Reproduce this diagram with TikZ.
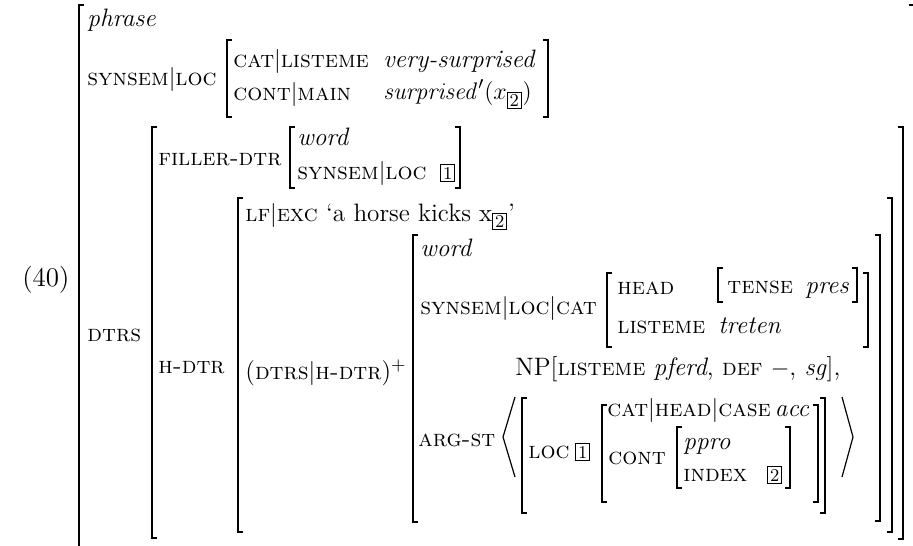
\documentclass[tikz,border=0pt]{standalone}
\newcommand{\tg}[1]{{\setlength{\fboxsep}{0.9pt}\setlength{\fboxrule}{0.5pt}\fbox{\fontsize{9}{9}\selectfont #1}}}
\newcommand{\bb}{$|$}
\newcommand{\sk}[1]{{\fontsize{11.8}{14}\selectfont\textsc{#1}}}
\newcommand{\LB}[3]{\draw[br] ({#1+5},#2) -- (#1,#2) -- (#1,#3) -- ({#1+5},#3);}
\newcommand{\RB}[3]{\draw[br] ({#1-5},#2) -- (#1,#2) -- (#1,#3) -- ({#1-5},#3);}
\begin{document}
\begin{tikzpicture}[x=0.5pt,y=-0.5pt,
 br/.style={line width=1pt},
 ang/.style={line width=0.6pt},
 lab/.style={anchor=base west,inner sep=0pt,font=\fontsize{12.6}{14}\selectfont}]
\useasboundingbox (0,0) rectangle (913,545);
% brackets
\LB{79}{5}{560}
\draw[br] (909,5) -- (915,5) -- (915,560);
\LB{227}{40}{117} \RB{548}{40}{117}
\LB{152}{127}{538} \RB{903}{127}{539}
\LB{290}{127}{188} \RB{460}{127}{188}
\LB{238}{198}{532} \RB{892}{198}{532}
\LB{413}{235}{522} \RB{880}{235}{521}
\LB{607}{273}{347} \RB{868}{273}{347}
\LB{718}{268}{302} \RB{857}{268}{302}
\LB{522}{398}{513} \RB{825}{398}{513}
\LB{602}{405}{502} \RB{818}{405}{502}
\LB{677}{427}{488} \RB{790}{427}{488}
\draw[ang] (515,397) -- (503,437) -- (515,477);
\draw[ang] (842,397) -- (853,437) -- (842,477);
% texts
\node[lab,font=\fontsize{13.5}{15}\selectfont] (ex) at (22,286) {(40)};
\node[lab] (phr) at (87,27) {\itshape phrase};
\node[lab] (sl) at (87,86) {\sk{synsem}\bb\sk{loc}};
\node[lab] (cl) at (233,68) {\sk{cat}\bb\sk{listeme}};
\node[lab] (vs) at (383,68) {\itshape very-surprised};
\node[lab] (cm) at (233,101) {\sk{cont}\bb\sk{main}};
\node[lab] (sp) at (383,100) {$\mathit{surprised}'(x_{\tg{2}})$};
\node[lab] (dtrs) at (87,341) {\sk{dtrs}};
\node[lab] (fd) at (158,166) {\sk{filler-dtr}};
\node[lab] (w1) at (297,146) {\itshape word};
\node[lab] (sl1) at (297,179) {\sk{synsem}\bb\sk{loc}};
\node[lab] (t1) at (440,179) {\tg{1}};
\node[lab] (hd) at (158,373) {\sk{h-dtr}};
\node[lab] (lf) at (245,221) {\sk{lf}\bb\sk{exc} `a horse kicks x$_{\tg{2}}$'};
\node[lab] (path) at (245,379) {(\sk{dtrs}\bb\sk{h-dtr})$^+$};
\node[lab] (w2) at (420,256) {\itshape word};
\node[lab] (slc) at (420,314) {\sk{synsem}\bb\sk{loc}\bb\sk{cat}};
\node[lab] (head) at (617,294) {\sk{head}};
\node[lab] (tense) at (727,293) {\sk{tense}};
\node[lab] (pres) at (805,293) {\itshape pres};
\node[lab] (lis) at (617,333) {\sk{listeme}};
\node[lab] (tre) at (718,333) {\itshape treten};
\node[lab] (np) at (515,375) {NP[\sk{listeme} \textit{pferd}, \sk{def} $-$, \textit{sg}],};
\node[lab] (arg) at (418,446) {\sk{arg-st}};
\node[lab] (loc) at (528,458) {\sk{loc}};
\node[lab] (t1b) at (575,458) {\tg{1}};
\node[lab] (chc) at (607,416) {\sk{cat}\bb\sk{head}\bb\sk{case}\,\textit{acc}};
\node[lab] (cont) at (608,464) {\sk{cont}};
\node[lab] (ppro) at (683,449) {\itshape ppro};
\node[lab] (idx) at (683,481) {\sk{index}};
\node[lab] (t2) at (767,481) {\tg{2}};
\end{tikzpicture}
\end{document}
